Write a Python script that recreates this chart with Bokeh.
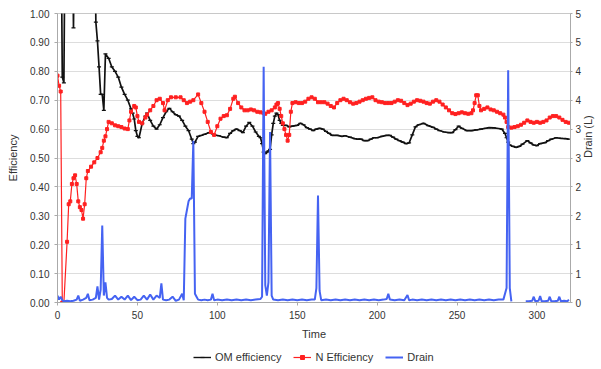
import math
from bokeh.plotting import figure
from bokeh.layouts import column
from bokeh.models import (Range1d, LinearAxis, FixedTicker, NumeralTickFormatter,
                          Legend, LegendItem)
from bokeh.embed import file_html
from bokeh.resources import INLINE

NAN = float("nan")

# ---------------- data ----------------
om_time = [2, 3, 4, 5, 9, 10, 11, 23, 24, 25, 26, 27, 28, 29, 30, 32, 34, 36, 38, 40,
           42, 44, 46, 47, 48, 49, 50, 51, 53, 55, 56, 58, 60, 62, 64, 66, 68, 70, 72, 74,
           76, 78, 80, 82, 84, 85, 86, 88, 90, 92, 95, 98, 101, 104, 106, 108, 110, 112, 114, 116,
           118, 120, 122, 124, 126, 127, 128, 129, 130, 131, 132, 133, 134, 135, 136, 137, 138, 139, 140, 141,
           143, 145, 147, 150, 152, 154, 156, 158, 160, 162, 164, 166, 168, 170, 172, 175, 178, 180, 183, 186,
           188, 190, 192, 194, 196, 198, 200, 203, 206, 208, 210, 212, 214, 216, 218, 220, 222, 224, 226, 229,
           232, 235, 237, 239, 242, 245, 247, 249, 251, 253, 256, 259, 262, 265, 268, 270, 273, 276, 278, 280,
           281, 282, 283, 285, 287, 289, 291, 294, 296, 298, 300, 302, 305, 307, 309, 312, 315, 318, 320]
om_eff = [1.5, 0.78, 0.76, 1.5, 1.5, 0.95, 1.5, 1.5, 0.97, 0.905, 0.815, 0.72, 0.72, 0.665, 0.86, 0.845, 0.815, 0.80, 0.78, 0.745,
          0.72, 0.70, 0.67, 0.655, 0.635, 0.595, 0.575, 0.57, 0.62, 0.645, 0.655, 0.63, 0.61, 0.60, 0.615, 0.64, 0.66, 0.672, 0.66, 0.65,
          0.645, 0.63, 0.61, 0.595, 0.565, 0.55, 0.555, 0.575, 0.578, 0.582, 0.588, 0.58, 0.577, 0.572, 0.57, 0.585, 0.595, 0.60, 0.595, 0.588,
          0.61, 0.623, 0.61, 0.59, 0.575, 0.57, 0.55, 0.52, 0.515, 0.52, 0.525, 0.53, 0.58, 0.62, 0.645, 0.655, 0.65, 0.63, 0.62, 0.613,
          0.613, 0.608, 0.61, 0.613, 0.62, 0.615, 0.605, 0.60, 0.595, 0.60, 0.603, 0.60, 0.592, 0.585, 0.578, 0.578, 0.575, 0.577, 0.572, 0.567,
          0.565, 0.565, 0.56, 0.56, 0.565, 0.57, 0.57, 0.575, 0.578, 0.578, 0.572, 0.565, 0.56, 0.555, 0.55, 0.552, 0.58, 0.608, 0.615, 0.62,
          0.612, 0.606, 0.60, 0.595, 0.59, 0.588, 0.588, 0.598, 0.61, 0.603, 0.595, 0.595, 0.597, 0.60, 0.603, 0.605, 0.604, 0.602, 0.60, 0.585,
          0.57, 0.555, 0.545, 0.54, 0.537, 0.54, 0.548, 0.56, 0.552, 0.545, 0.543, 0.55, 0.553, 0.56, 0.565, 0.57, 0.568, 0.567, 0.565]

n_time = [0, 1, 2, 3, 4, 6, 7, 8, 9, 10, 11, 12, 13, 14, 15, 16, 17, 18, 19, 21,
          23, 25, 27, 28, 29, 30, 31, 32, 34, 36, 38, 40, 42, 44, 45, 46, 48, 49, 50, 51,
          53, 55, 56, 58, 60, 62, 64, 66, 67, 69, 71, 74, 77, 79, 81, 83, 85, 88, 90, 92,
          94, 96, 98, 100, 102, 104, 106, 108, 110, 111, 113, 115, 117, 119, 121, 123, 125, 127, 129, 130,
          132, 134, 136, 137, 138, 139, 140, 141, 142, 143, 144, 145, 146, 147, 149, 151, 153, 155, 157, 159,
          161, 163, 165, 167, 169, 171, 173, 175, 177, 179, 181, 183, 185, 187, 189, 191, 193, 195, 197, 199,
          201, 203, 205, 207, 209, 211, 213, 215, 217, 219, 221, 223, 225, 227, 229, 231, 233, 235, 237, 239,
          241, 243, 245, 247, 249, 251, 253, 255, 257, 259, 260, 261, 262, 263, 264, 265, 267, 269, 271, 273,
          275, 277, 279, 280, 281, 282, 284, 286, 288, 290, 292, 294, 296, 298, 300, 302, 304, 306, 308, 310,
          312, 314, 316, 318, 320]
n_eff = [0.785, 0.75, 0.73, 0.0, 0.0, 0.21, 0.34, 0.35, 0.41, 0.43, 0.44, 0.41, 0.35, 0.33, 0.32, 0.29, 0.34, 0.43, 0.455, 0.47,
         0.485, 0.50, 0.52, 0.535, 0.56, 0.575, 0.60, 0.625, 0.62, 0.613, 0.61, 0.607, 0.602, 0.60, 0.63, 0.66, 0.68, 0.675, 0.645, 0.625,
         0.62, 0.64, 0.65, 0.665, 0.68, 0.70, 0.705, 0.69, 0.665, 0.70, 0.71, 0.71, 0.71, 0.70, 0.69, 0.695, 0.70, 0.72, 0.69, 0.66,
         0.625, 0.59, 0.58, 0.61, 0.636, 0.645, 0.648, 0.67, 0.705, 0.712, 0.69, 0.675, 0.665, 0.665, 0.668, 0.665, 0.66, 0.658, 0.655, 0.653,
         0.66, 0.665, 0.675, 0.685, 0.69, 0.67, 0.645, 0.62, 0.60, 0.58, 0.56, 0.58, 0.66, 0.69, 0.693, 0.69, 0.69, 0.695, 0.705, 0.71,
         0.705, 0.693, 0.693, 0.693, 0.688, 0.68, 0.675, 0.69, 0.70, 0.705, 0.70, 0.693, 0.688, 0.69, 0.695, 0.70, 0.705, 0.708, 0.71, 0.70,
         0.695, 0.693, 0.69, 0.69, 0.69, 0.695, 0.70, 0.698, 0.69, 0.683, 0.688, 0.695, 0.70, 0.698, 0.695, 0.69, 0.688, 0.695, 0.70, 0.695,
         0.685, 0.675, 0.665, 0.655, 0.652, 0.655, 0.658, 0.655, 0.653, 0.655, 0.665, 0.69, 0.717, 0.717, 0.68, 0.665, 0.67, 0.675, 0.668, 0.665,
         0.66, 0.655, 0.65, 0.64, 0.625, 0.607, 0.605, 0.607, 0.61, 0.615, 0.622, 0.63, 0.625, 0.622, 0.625, 0.622, 0.625, 0.63, 0.64, 0.645,
         0.645, 0.64, 0.632, 0.625, 0.622]

drain_time = [0, 1, 2, 3, 4, 6, 8, 10, 12, 13, 14, 16, 18, 19, 20, 22, 24, 25, 26, 27,
              28, 29, 30, 31, 32, 34, 36, 38, 40, 42, 44, 46, 48, 50, 52, 54, 56, 58, 60, 62,
              64, 65, 66, 68, 70, 72, 74, 76, 78, 79, 80, 81, 82, 83, 84, 85, 86, 87, 88, 90,
              92, 94, 96, 97, 98, 100, 103, 106, 109, 112, 115, 118, 121, 124, 127, 128, 129, 130, 131, 132,
              133, 134, 135, 138, 141, 144, 147, 150, 153, 156, 159, 161, 162, 163, 164, 165, 168, 171, 174, 177,
              180, 183, 186, 189, 192, 195, 198, 201, 204, 206, 207, 208, 211, 214, 217, 219, 220, 222, 225, 228,
              231, 234, 237, 240, 243, 246, 249, 252, 255, 258, 261, 264, 267, 270, 273, 276, 279, 281, 282, 283,
              284, 285, 293, 295, 297, 298, 299, 301, 302, 303, 305, 307, 308, 309, 311, 313, 314, 315, 317, 319,
              320]
drain_l = [0.12, 0.05, 0.1, 0.04, 0.02, 0.03, 0.02, 0.03, 0.05, 0.12, 0.03, 0.05, 0.08, 0.15, 0.04, 0.05, 0.08, 0.28, 0.05, 0.22,
           1.33, 0.12, 0.35, 0.08, 0.05, 0.06, 0.12, 0.05, 0.1, 0.05, 0.12, 0.04, 0.1, 0.04, 0.05, 0.12, 0.05, 0.14, 0.05, 0.12,
           0.08, 0.33, 0.05, 0.04, 0.05, 0.1, 0.03, 0.05, 0.15, 0.04, 1.45, 1.6, 1.75, 1.8, 1.8, 2.8, 0.15, 0.1, 0.05, 0.04,
           0.05, 0.04, 0.05, 0.15, 0.04, 0.05, 0.04, 0.05, 0.04, 0.05, 0.04, 0.05, 0.04, 0.05, 0.06, 0.1, 4.08, 0.3, 0.12, 0.35,
           2.95, 0.12, 0.05, 0.04, 0.05, 0.04, 0.05, 0.04, 0.05, 0.04, 0.05, 0.05, 0.25, 1.85, 0.2, 0.04, 0.05, 0.04, 0.05, 0.04,
           0.05, 0.04, 0.05, 0.04, 0.05, 0.04, 0.05, 0.04, 0.05, 0.06, 0.15, 0.05, 0.04, 0.05, 0.04, 0.13, 0.04, 0.05, 0.04, 0.05,
           0.04, 0.05, 0.04, 0.05, 0.04, 0.05, 0.04, 0.05, 0.04, 0.05, 0.04, 0.05, 0.04, 0.05, 0.04, 0.05, 0.05, 0.25, 4.02, 0.25,
           0.02, NAN, 0.02, 0.02, 0.03, 0.1, 0.02, 0.03, 0.11, 0.02, 0.02, 0.03, 0.1, 0.02, 0.02, 0.03, 0.1, 0.02, 0.03, 0.02,
           0.05]

x_ticks = [0, 50, 100, 150, 200, 250, 300]
eff_ticks = [0.0, 0.1, 0.2, 0.3, 0.4, 0.5, 0.6, 0.7, 0.8, 0.9, 1.0]
drain_ticks = [0.0, 0.5, 1.0, 1.5, 2.0, 2.5, 3.0, 3.5, 4.0, 4.5, 5.0]
drain_tick_labels = ["0", "1", "1", "2", "2", "3", "3", "4", "4", "5", "5"]
series_names = ["OM efficiency", "N Efficiency", "Drain"]

# ---------------- styling ----------------
FONT = "Liberation Sans"
TXT = "#333333"
BLACK = "#111111"
RED = "#ff2020"
BLUE = "#4563f2"

p = figure(frame_width=513, frame_height=289, output_backend="svg", toolbar_location=None,
           x_range=Range1d(0, 321), y_range=Range1d(0, 1.0),
           min_border_left=57, min_border_right=30, min_border_top=13, min_border_bottom=42)
p.extra_y_ranges = {"drain": Range1d(0, 5)}

p.outline_line_color = "#c8c8c8"
p.background_fill_color = "white"
p.border_fill_color = "white"

p.xgrid.visible = False
p.ygrid.ticker = FixedTicker(ticks=eff_ticks)
p.ygrid.grid_line_color = "#dddddd"

# x axis
xa = p.xaxis[0]
xa.ticker = FixedTicker(ticks=x_ticks)
xa.axis_label = "Time"
xa.major_tick_out = 3
xa.major_tick_in = 0
xa.minor_tick_out = 0
xa.minor_tick_in = 0
xa.major_label_standoff = 5
xa.axis_label_standoff = 6
xa.axis_line_color = "#aaaaaa"
xa.major_tick_line_color = "#aaaaaa"

# left axis
ya = p.yaxis[0]
ya.ticker = FixedTicker(ticks=eff_ticks)
ya.formatter = NumeralTickFormatter(format="0.00")
ya.axis_label = "Efficiency"
ya.major_tick_out = 3
ya.major_tick_in = 0
ya.minor_tick_out = 0
ya.minor_tick_in = 0
ya.major_label_standoff = 5
ya.axis_label_standoff = 8
ya.axis_line_color = "#aaaaaa"
ya.major_tick_line_color = "#aaaaaa"

# right axis
ra = LinearAxis(y_range_name="drain", ticker=FixedTicker(ticks=drain_ticks),
                axis_label="Drain (L)")
ra.major_label_overrides = {t: lab for t, lab in zip(drain_ticks, drain_tick_labels)}
ra.major_tick_out = 2
ra.major_tick_in = 0
ra.minor_tick_out = 0
ra.minor_tick_in = 0
ra.major_label_standoff = 3
ra.axis_label_standoff = 4
ra.axis_line_color = "#aaaaaa"
ra.major_tick_line_color = "#aaaaaa"
try:
    ra.axis_label_orientation = math.pi / 2
except Exception:
    pass
p.add_layout(ra, "right")

for ax in (xa, ya, ra):
    ax.major_label_text_font = FONT
    ax.major_label_text_font_size = "10px"
    ax.major_label_text_color = TXT
    ax.axis_label_text_font = FONT
    ax.axis_label_text_font_size = "11px"
    ax.axis_label_text_font_style = "normal"
    ax.axis_label_text_color = TXT

# series
p.line(om_time, om_eff, line_color=BLACK, line_width=1.7)
p.scatter(om_time, om_eff, marker="dash", size=4, line_color=BLACK, line_width=1.2)
p.line(n_time, n_eff, line_color=RED, line_width=1.2)
p.scatter(n_time, n_eff, marker="square", size=3, line_color=RED, fill_color=RED)
p.line(drain_time, drain_l, line_color=BLUE, line_width=2, y_range_name="drain")

# legend strip below the chart: same series, drawn into a range where they are not visible
pl = figure(width=600, height=25, output_backend="svg", toolbar_location=None,
            x_axis_type=None, y_axis_type=None,
            x_range=Range1d(-1000, -999), y_range=Range1d(-1000, -999),
            min_border_left=0, min_border_right=0, min_border_top=0, min_border_bottom=0)
pl.outline_line_color = None
pl.xgrid.visible = False
pl.ygrid.visible = False
l1 = pl.line(om_time, om_eff, line_color=BLACK, line_width=1.4)
s1 = pl.scatter(om_time, om_eff, marker="dash", size=5, line_color=BLACK, line_width=1.2)
l2 = pl.line(n_time, n_eff, line_color=RED, line_width=1.2)
s2 = pl.scatter(n_time, n_eff, marker="square", size=4, line_color=RED, fill_color=RED)
l3 = pl.line(drain_time, drain_l, line_color=BLUE, line_width=2)

legend = Legend(items=[
    LegendItem(label=series_names[0], renderers=[l1, s1]),
    LegendItem(label=series_names[1], renderers=[l2, s2]),
    LegendItem(label=series_names[2], renderers=[l3]),
], orientation="horizontal", location=(134, 4))
legend.label_text_font = FONT
legend.label_text_font_size = "11px"
legend.label_text_color = TXT
legend.glyph_width = 18
legend.glyph_height = 10
legend.label_height = 10
legend.spacing = 12
legend.padding = 2
legend.margin = 0
legend.label_standoff = 4
legend.border_line_alpha = 0
legend.background_fill_alpha = 0
pl.add_layout(legend, "center")

layout = column(p, pl, spacing=0)
open("out.html", "w").write(file_html(layout, INLINE))
